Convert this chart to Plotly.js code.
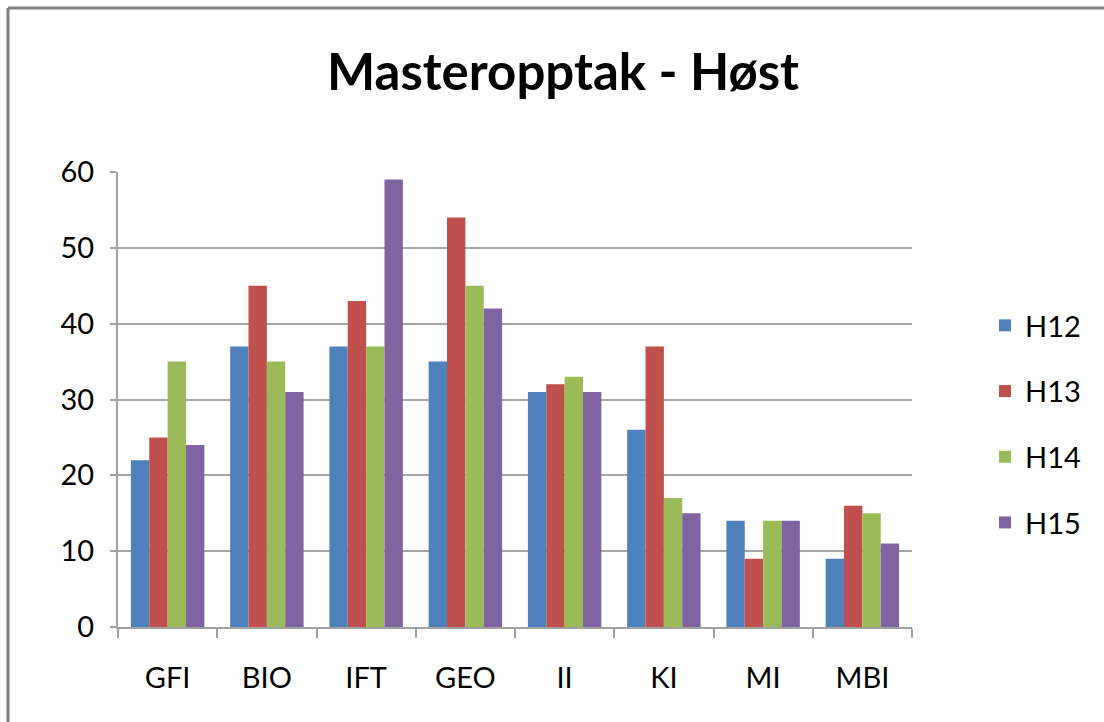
<!DOCTYPE html>
<html>
<head>
<meta charset="utf-8">
<script src="https://cdn.plot.ly/plotly-3.0.1.min.js"></script>
<style>
  html, body { margin: 0; padding: 0; background: #fff; }
  #chart { width: 1104px; height: 722px; }
</style>
</head>
<body>
<div id="chart"></div>
<script>
const categories = ["GFI", "BIO", "IFT", "GEO", "II", "KI", "MI", "MBI"];
const seriesNames = ["H12", "H13", "H14", "H15"];
const H12 = [22, 37, 37, 35, 31, 26, 14, 9];
const H13 = [25, 45, 43, 54, 32, 37, 9, 16];
const H14 = [35, 35, 37, 45, 33, 17, 14, 15];
const H15 = [24, 31, 59, 42, 31, 15, 14, 11];
const yTicks = [0, 10, 20, 30, 40, 50, 60];
const colors = ["#4f81bd", "#c0504d", "#9bbb59", "#8064a2"];

const seriesValues = [H12, H13, H14, H15];
const traces = seriesValues.map((vals, i) => ({
  type: "bar",
  name: seriesNames[i],
  x: categories,
  y: vals,
  legendgroup: seriesNames[i],
  marker: { color: colors[i], line: { width: 0 } }
}));

const L = 118, W = 794, T = 172, H = 455;
const px2x = p => (p - L) / W;
const py2y = p => (T + H - p) / H;

const layout = {
  width: 1104,
  height: 722,
  margin: { l: L, r: 1104 - L - W, t: T, b: 722 - T - H },
  paper_bgcolor: "#ffffff",
  plot_bgcolor: "#ffffff",
  font: { family: "Lato, 'Open Sans', sans-serif", color: "#000000", size: 29 },
  title: {
    text: "<b>Masteropptak - Høst</b>",
    font: { size: 51, family: "Lato, 'Open Sans', sans-serif", color: "#000" },
    x: 0.51, xref: "container", xanchor: "center",
    y: 1 - 72 / 722, yref: "container", yanchor: "middle"
  },
  barmode: "group",
  bargap: 0.26,
  bargroupgap: 0,
  showlegend: true,
  legend: {
    x: px2x(985), xanchor: "left",
    y: py2y(300), yanchor: "top",
    tracegroupgap: 25,
    font: { size: 29 },
    bgcolor: "rgba(0,0,0,0)"
  },
  xaxis: {
    type: "category",
    showline: true, linecolor: "#a0a0a0", linewidth: 2,
    ticks: "outside", tickson: "boundaries", ticklen: 9, tickcolor: "#a0a0a0", tickwidth: 2,
    tickfont: { size: 29 },
    ticklabelstandoff: 24,
    showgrid: false, zeroline: false,
    fixedrange: true
  },
  yaxis: {
    range: [0, 60],
    tickvals: yTicks,
    ticktext: yTicks.map(String),
    showline: true, linecolor: "#a0a0a0", linewidth: 2,
    ticks: "outside", ticklen: 6, tickcolor: "#a0a0a0", tickwidth: 2,
    showgrid: true, gridcolor: "#a6a6a6", gridwidth: 2,
    zeroline: false,
    tickfont: { size: 29 },
    ticklabelstandoff: 10,
    fixedrange: true
  },
  shapes: [
    { type: "line", xref: "paper", yref: "paper",
      x0: px2x(8), x1: px2x(1104), y0: py2y(8), y1: py2y(8),
      line: { color: "#808080", width: 3 } },
    { type: "line", xref: "paper", yref: "paper",
      x0: px2x(8), x1: px2x(8), y0: py2y(8), y1: py2y(722),
      line: { color: "#808080", width: 3 } }
  ]
};

Plotly.newPlot("chart", traces, layout, { displayModeBar: false, staticPlot: true });
</script>
</body>
</html>
